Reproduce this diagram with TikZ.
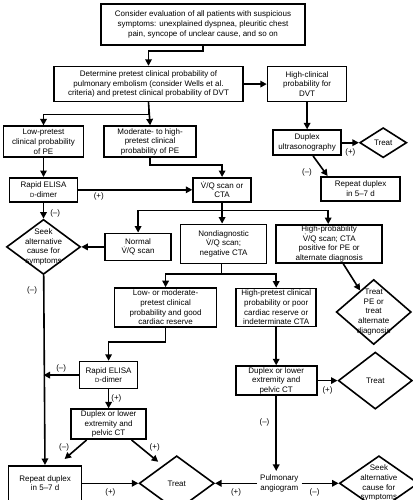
\documentclass[tikz,border=0pt]{standalone}
\usepackage{fontspec}
\setmainfont{Liberation Sans}
\usetikzlibrary{positioning,shapes.geometric,arrows.meta}

\newcommand{\ddim}{{\fontsize{6}{6}\selectfont D}-dimer}
\newcommand{\vq}{V^^^^0307/Q}

\begin{document}
\begin{tikzpicture}[
    line width=1.6pt,
    >={Triangle[length=6.5pt,width=6.5pt]},
    box/.style={draw, rectangle, align=center, inner sep=0pt,
      font=\fontsize{8}{9.6}\selectfont},
    decision/.style={draw, diamond, inner sep=0pt},
    dtext/.style={align=center, inner sep=0pt, font=\fontsize{8}{9.6}\selectfont},
    signlbl/.style={inner sep=2pt, font=\fontsize{8}{9.6}\selectfont}
  ]
  \useasboundingbox (0,0) rectangle (412pt,-500pt);

  \node (consider) [box, minimum width=204pt, minimum height=41pt] at (203pt,-24.5pt)
    {Consider evaluation of all patients with suspicious\\symptoms: unexplained dyspnea, pleuritic chest\\pain, syncope of unclear cause, and so on};

  \node (pretest)  [box, minimum width=189pt, minimum height=35pt, below=20pt of consider, xshift=-54.5pt]
    {Determine pretest clinical probability of\\pulmonary embolism (consider Wells et al.\\criteria) and pretest clinical probability of DVT};
  \node (hidvt)    [box, minimum width=79pt, minimum height=35pt, right=23pt of pretest]
    {High-clinical\\probability for\\DVT};

  \node (lowpe)    [box, minimum width=80pt, minimum height=31pt, below=23pt of pretest, xshift=-105pt]
    {Low-pretest\\clinical probability\\of PE};
  \node (modpe)    [box, minimum width=92pt, minimum height=31pt, right=19pt of lowpe]
    {Moderate- to high-\\pretest clinical\\probability of PE};
  \node (duplexus) [box, minimum width=68pt, minimum height=25pt, below=27pt of hidvt]
    {Duplex\\ultrasonography};
  \node (treata)   [decision, minimum width=47pt, minimum height=30pt, right=17pt of duplexus,
    label={[dtext]center:Treat}] {};
  \node (repeata)  [box, minimum width=79pt, minimum height=24pt, below=20pt of duplexus, xshift=53.5pt]
    {Repeat duplex\\in 5--7 d};

  \node (elisaa)   [box, minimum width=68pt, minimum height=24pt, below=19pt of lowpe]
    {Rapid ELISA\\\ddim};
  \node (vq)       [box, minimum width=58pt, minimum height=24pt, right=114pt of elisaa]
    {\vq{} scan or\\CTA};

  \node (seeka)    [decision, minimum width=74pt, minimum height=55pt, below=16pt of elisaa,
    label={[dtext]center:{Seek\\alternative\\cause for\\symptoms}}] {};
  \node (normal)   [box, minimum width=66pt, minimum height=27pt, right=23pt of seeka]
    {Normal\\\vq{} scan};
  \node (nondiag)  [box, minimum width=86pt, minimum height=39pt, below=21pt of vq, xshift=1.5pt]
    {Nondiagnostic\\\vq{} scan;\\negative CTA};
  \node (highprob) [box, minimum width=106pt, minimum height=38pt, right=8pt of nondiag]
    {High-probability\\\vq{} scan; CTA\\positive for PE or\\alternate diagnosis};
  \node (treatpe)  [decision, minimum width=75pt, minimum height=65pt, below=15pt of highprob, xshift=44.5pt,
    label={[dtext]center:{Treat\\PE or\\treat\\alternate\\diagnosis}}] {};

  \node (lowmod)   [box, minimum width=102pt, minimum height=39pt, below=23pt of nondiag, xshift=-58pt]
    {Low- or moderate-\\pretest clinical\\probability and good\\cardiac reserve};
  \node (hipre)    [box, minimum width=80pt, minimum height=38pt, right=18pt of lowmod]
    {High-pretest clinical\\probability or poor\\cardiac reserve or\\indeterminate CTA};

  \node (elisab)   [box, minimum width=58pt, minimum height=27pt, below=33pt of lowmod, xshift=-57pt]
    {Rapid ELISA\\\ddim};
  \node (duplexb)  [box, minimum width=75pt, minimum height=30pt, below=19pt of elisab]
    {Duplex or lower\\extremity and\\pelvic CT};
  \node (duplexc)  [box, minimum width=81pt, minimum height=29pt, below=38pt of hipre]
    {Duplex or lower\\extremity and\\pelvic CT};
  \node (treatb)   [decision, minimum width=74pt, minimum height=57pt, right=20pt of duplexc,
    label={[dtext]center:Treat}] {};

  \node (repeatb)  [box, minimum width=73pt, minimum height=35pt, below=25pt of duplexb, xshift=-63.5pt]
    {Repeat duplex\\in 5--7 d};
  \node (treatc)   [decision, minimum width=75pt, minimum height=55pt, right=56pt of repeatb,
    label={[dtext]center:Treat}] {};
  \node (angio)    [dtext, minimum width=43pt, inner ysep=3pt, right=42pt of treatc]
    {Pulmonary\\angiogram};
  \node (seekb)    [decision, minimum width=79pt, minimum height=55pt, right=37pt of angio,
    label={[dtext]center:{Seek\\alternative\\cause for\\symptoms}}] {};

  \draw [->] (consider.south) -- ++(0,-5pt) -| (pretest.north);
  \draw [->] (pretest) to (hidvt);
  \draw [->] (pretest.south) -- ++(0,-12pt) -| (lowpe.north);
  \draw [->] (pretest.south) -- (modpe.north);

  \draw [->] (hidvt) to (duplexus);
  \draw [->] (duplexus) to node [signlbl, below=3pt] {(+)} (treata);
  \draw [->] ([xshift=6pt]duplexus.south) to node [signlbl, pos=0.8, left=10pt] {(--)} ([xshift=-33pt]repeata.north);

  \draw [->] (lowpe) to (elisaa);
  \draw [->] (elisaa) to node [signlbl, pos=0.18, below] {(+)} (vq);
  \draw [->] (modpe.south) -- ++(0,-7pt) -| (vq.north);

  \draw [->] (vq.south) -- ++(0,-8pt) -| (normal.north);
  \draw [->] (vq.south) -- ++(0,-8pt) -| ([xshift=-1pt]highprob.north);
  \draw [->] (vq.south) -- (vq.south |- nondiag.north);

  \draw [->] (elisaa) to node [signlbl, pos=0.65, right=4pt] {(--)} (seeka);
  \draw [->] (normal) to (seeka);
  \draw [->] ([xshift=14pt]highprob.south) to (treatpe);

  \draw [->] ([xshift=-2pt]nondiag.south) -- ++(0,-10pt) -| (lowmod.north);
  \draw [->] ([xshift=-2pt]nondiag.south) -- ++(0,-10pt) -| (hipre.north);

  \draw [->] (seeka) to node [signlbl, pos=0.08, left=4pt] {(--)} (repeatb);

  \draw [->] (lowmod.south) -- ++(0,-14pt) -| (elisab.north);
  \draw [->] (elisab.west) to node [signlbl, above] {(--)} (elisab.west -| seeka.south);
  \draw [->] (elisab) to node [signlbl, right] {(+)} (duplexb);
  \draw [->] ([xshift=-22pt]duplexb.south) to node [signlbl, pos=0.4, left=6pt] {(--)} ([shift={(19.5pt,6pt)}]repeatb.north);
  \draw [->] ([xshift=23pt]duplexb.south) to node [signlbl, pos=0.35, right=6pt] {(+)} ([shift={(-18.5pt,21.5pt)}]treatc.center);

  \draw [->] (hipre) to (duplexc);
  \draw [->] (duplexc) to node [signlbl, below=3pt] {(+)} (treatb);
  \draw [->] (duplexc.south) to node [signlbl, pos=0.35, left=4pt] {(--)} (duplexc.south |- angio.north);

  \draw [->] (repeatb) to node [signlbl, below=3pt] {(+)} (treatc);
  \draw [->] (angio) to node [signlbl, below=3pt] {(+)} (treatc);
  \draw [->] (angio) to node [signlbl, pos=0.35, below=3pt] {(--)} (seekb);
\end{tikzpicture}
\end{document}
